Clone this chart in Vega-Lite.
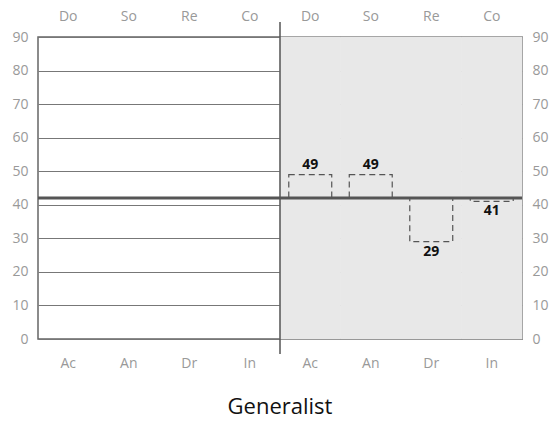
{
  "$schema": "https://vega.github.io/schema/vega-lite/v6.json",
  "width": 484,
  "height": 302,
  "autosize": "none",
  "padding": {"left": 38, "top": 37, "right": 34, "bottom": 84},
  "config": {
    "font": "Open Sans",
    "view": {"stroke": "#666", "strokeWidth": 1.5},
    "axis": {"labelFont": "Open Sans", "labelFontSize": 14, "labelColor": "#999", "domain": false, "ticks": false, "title": null}
  },
  "title": {"text": "Generalist", "orient": "bottom", "fontSize": 22, "fontWeight": "normal", "color": "#111", "font": "Open Sans", "offset": 27, "anchor": "middle"},
  "datasets": {
    "slots": [
      {"slot": "L-Ac-Do"}, {"slot": "L-An-So"}, {"slot": "L-Dr-Re"}, {"slot": "L-In-Co"},
      {"slot": "R-Ac-Do"}, {"slot": "R-An-So"}, {"slot": "R-Dr-Re"}, {"slot": "R-In-Co"}
    ],
    "bars": [
      {"slot": "R-Ac-Do", "value": 49, "ref": 42},
      {"slot": "R-An-So", "value": 49, "ref": 42},
      {"slot": "R-Dr-Re", "value": 29, "ref": 42},
      {"slot": "R-In-Co", "value": 41, "ref": 42}
    ],
    "bg": [
      {"slot": "R-Ac-Do", "lo": 0, "hi": 90},
      {"slot": "R-An-So", "lo": 0, "hi": 90},
      {"slot": "R-Dr-Re", "lo": 0, "hi": 90},
      {"slot": "R-In-Co", "lo": 0, "hi": 90}
    ],
    "divider": [{"slot": "R-Ac-Do", "lo": -4.5, "hi": 94.5}],
    "refline": [{"ref": 42}]
  },
  "resolve": {"axis": {"x": "independent", "y": "independent"}},
  "layer": [
    {
      "data": {"name": "bg"},
      "mark": {"type": "bar", "fill": "#e8e8e8", "stroke": "#e8e8e8", "strokeWidth": 0.6, "width": {"band": 1}},
      "encoding": {
        "x": {"field": "slot", "type": "nominal", "sort": null,
              "scale": {"domain": ["L-Ac-Do","L-An-So","L-Dr-Re","L-In-Co","R-Ac-Do","R-An-So","R-Dr-Re","R-In-Co"], "paddingInner": 0, "paddingOuter": 0},
              "axis": {"orient": "bottom", "labelExpr": "split(datum.label, '-')[1]", "labelPadding": 17, "grid": false, "labelAngle": 0}},
        "y": {"field": "lo", "type": "quantitative", "scale": {"domain": [0, 90], "nice": false},
              "axis": {"orient": "left", "values": [0,10,20,30,40,50,60,70,80,90], "labelPadding": 10, "grid": true, "gridColor": "#777", "gridWidth": 1}},
        "y2": {"field": "hi"}
      }
    },
    {
      "data": {"name": "slots"},
      "mark": {"type": "tick", "opacity": 0},
      "encoding": {
        "x": {"field": "slot", "type": "nominal", "sort": null,
              "axis": {"orient": "top", "labelExpr": "split(datum.label, '-')[2]", "labelPadding": 14, "grid": false, "labelAngle": 0}},
        "y": {"datum": 0, "type": "quantitative",
              "axis": {"orient": "right", "values": [0,10,20,30,40,50,60,70,80,90], "labelPadding": 10, "grid": false}}
      }
    },
    {
      "data": {"name": "divider"},
      "mark": {"type": "rule", "color": "#555", "strokeWidth": 1.5, "clip": false},
      "encoding": {
        "x": {"field": "slot", "type": "nominal", "bandPosition": 0, "axis": null},
        "y": {"field": "lo", "type": "quantitative", "axis": null},
        "y2": {"field": "hi"}
      }
    },
    {
      "data": {"name": "refline"},
      "mark": {"type": "rule", "color": "#555", "strokeWidth": 3},
      "encoding": {"y": {"field": "ref", "type": "quantitative", "axis": null}}
    },
    {
      "data": {"name": "bars"},
      "mark": {"type": "bar", "fill": null, "fillOpacity": 0, "stroke": "#555", "strokeWidth": 1.2, "strokeDash": [6, 4], "width": {"band": 0.71}},
      "encoding": {
        "x": {"field": "slot", "type": "nominal", "axis": null},
        "y": {"field": "ref", "type": "quantitative", "axis": null},
        "y2": {"field": "value"}
      }
    },
    {
      "data": {"name": "bars"},
      "transform": [{"filter": "datum.value > datum.ref"}],
      "mark": {"type": "text", "fontWeight": "bold", "fontSize": 14, "color": "#111", "baseline": "bottom", "dy": -3},
      "encoding": {
        "x": {"field": "slot", "type": "nominal", "axis": null},
        "y": {"field": "value", "type": "quantitative", "axis": null},
        "text": {"field": "value"}
      }
    },
    {
      "data": {"name": "bars"},
      "transform": [{"filter": "datum.value <= datum.ref"}],
      "mark": {"type": "text", "fontWeight": "bold", "fontSize": 14, "color": "#111", "baseline": "top", "dy": 3},
      "encoding": {
        "x": {"field": "slot", "type": "nominal", "axis": null},
        "y": {"field": "value", "type": "quantitative", "axis": null},
        "text": {"field": "value"}
      }
    }
  ]
}
